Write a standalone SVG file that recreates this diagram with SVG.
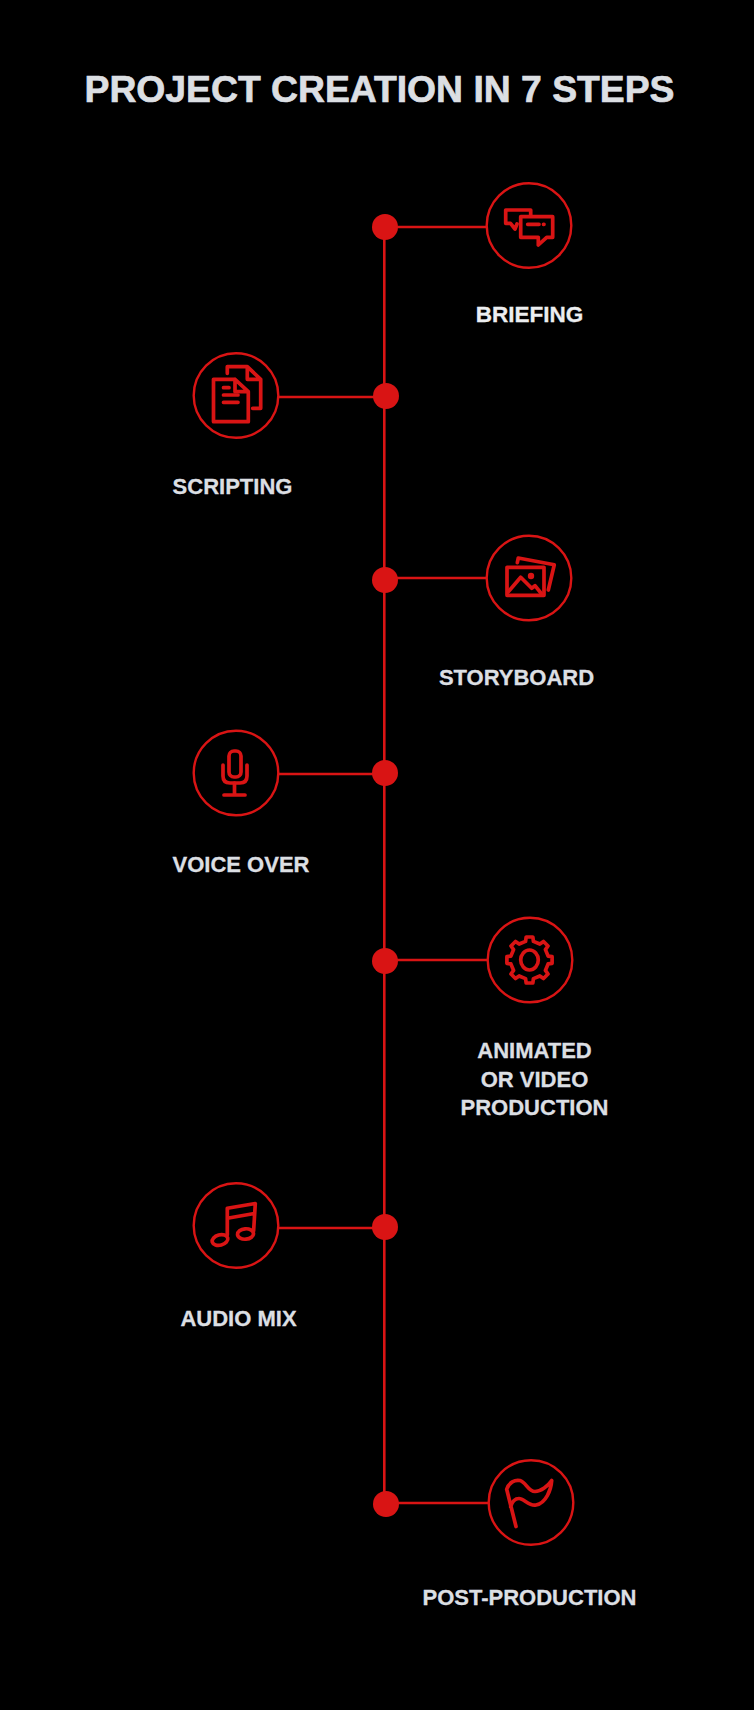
<svg xmlns="http://www.w3.org/2000/svg" width="754" height="1710" viewBox="0 0 754 1710">
<style>
.c{fill:#000;stroke:#d91414;stroke-width:2.4}
.l{fill:none;stroke:#d91414;stroke-width:2.6}
.d{fill:#d91414}
.i{fill:none;stroke:#d91414;stroke-width:3.7;stroke-linejoin:round;stroke-linecap:round}
.t{font-family:"Liberation Sans",Arial,sans-serif;font-weight:700;font-size:22px;fill:#dcdfe3;stroke:#dcdfe3;stroke-width:.3;text-anchor:middle}
</style>
<rect width="754" height="1710" fill="#000"/>
<text class="t" id="title" x="379.5" y="102" style="font-size:37.3px;stroke-width:.7">PROJECT CREATION IN 7 STEPS</text>
<g id="connectors">
<path class="l" d="M384.3 227V1504"/>
<path class="l" d="M385 227H487"/>
<path class="l" d="M278 397H386"/>
<path class="l" d="M385 578H487"/>
<path class="l" d="M278 774H385"/>
<path class="l" d="M385 960H487"/>
<path class="l" d="M278 1228H385"/>
<path class="l" d="M386 1503H488"/>
</g>
<g id="briefing">
<circle class="d" cx="385" cy="227" r="13"/>
<circle class="c" cx="529" cy="225.5" r="42.3"/>
<path class="i" d="M530.7 215V210H505.7V223.3H510.5L515 229L517 224"/>
<path class="i" d="M520.7 216.7H552.7V237.3H546.7L538.3 245V237.3H520.7Z"/>
<path class="i" d="M527.7 224.3H539M543.5 224.3H544"/>
<text class="t" x="529.5" y="322" style="font-size:22.5px;fill:#eceef0;stroke:#eceef0">BRIEFING</text>
</g>
<g id="scripting">
<circle class="d" cx="386" cy="396" r="13"/>
<circle class="c" cx="236" cy="395.5" r="42.3"/>
<path class="i" d="M235 379.3H213.5V421.7H248.3V391.7L235 379.3V391.7H248.3"/>
<path class="i" d="M223.5 387.7H229M223.5 395H238M223.5 402.3H238"/>
<path class="i" d="M227.3 373.3V366.7H247.3L260.7 379.3V408.3H252.7M247.3 366.7V379.3H260.7"/>
<text class="t" x="232.5" y="494">SCRIPTING</text>
</g>
<g id="storyboard">
<circle class="d" cx="385" cy="580" r="13"/>
<circle class="c" cx="529" cy="578" r="42.3"/>
<rect class="i" x="507" y="567.3" width="37" height="28"/>
<path class="i" d="M508.3 591.7L520.7 577.3L531.7 588.3L535 585.7L541.7 594"/>
<circle class="d" cx="531" cy="576" r="3.2"/>
<path class="i" d="M517.3 562.7L518.3 558L554.3 564.7L548.3 590"/>
<text class="t" x="516.5" y="685">STORYBOARD</text>
</g>
<g id="voice-over">
<circle class="d" cx="385" cy="773" r="13"/>
<circle class="c" cx="236" cy="773" r="42.3"/>
<rect class="i" x="229" y="751" width="12" height="26" rx="5"/>
<path class="i" d="M223 765V776Q223 783 230 783H240Q247 783 247 776V765"/>
<path class="i" d="M234.5 783V795M224 795H245"/>
<text class="t" x="241" y="872">VOICE OVER</text>
</g>
<g id="animated-production">
<circle class="d" cx="385" cy="961" r="13"/>
<circle class="c" cx="530" cy="960" r="42.3"/>
<path class="i" transform="translate(529.5 960)" d="M18.6-3.95L22.6-3.34V3.34L18.6 3.95L15.93 10.35L18.5 14L14 18.5L10.35 15.93L3.95 18.6L3.34 23H-3.34L-3.95 18.6L-10.35 15.93L-14 18.5L-18.5 14L-15.93 10.35L-18.6 3.95L-22.6 3.34V-3.34L-18.6-3.95L-15.93-10.35L-18.5-14L-14-18.5L-10.35-15.93L-3.95-18.6L-3.34-23H3.34L3.95-18.6L10.35-15.93L14-18.5L18.5-14L15.93-10.35Z"/>
<ellipse class="i" cx="529.5" cy="960" rx="8.8" ry="10"/>
<text class="t" x="534.5" y="1058">ANIMATED</text>
<text class="t" x="534.5" y="1087">OR VIDEO</text>
<text class="t" x="534.5" y="1115">PRODUCTION</text>
</g>
<g id="audio-mix">
<circle class="d" cx="385" cy="1227" r="13"/>
<circle class="c" cx="236" cy="1225.5" r="42.3"/>
<path class="i" d="M227.3 1235V1208.3L255.3 1203.5L253.6 1231M227.3 1218.3L254.3 1213.5"/>
<ellipse class="i" cx="220" cy="1240" rx="8" ry="5.2" transform="rotate(-15 220 1240)"/>
<ellipse class="i" cx="245.5" cy="1234" rx="8" ry="5.2" transform="rotate(-5 245.5 1234)"/>
<text class="t" x="238.5" y="1326">AUDIO MIX</text>
</g>
<g id="post-production">
<circle class="d" cx="386" cy="1504" r="13"/>
<circle class="c" cx="531" cy="1502.5" r="42.3"/>
<path class="i" d="M516 1526.5L506.7 1489.3C509 1482 515 1479.5 520 1480.5C526 1482 528 1491.5 535 1491.5C541 1491.5 548 1486 551.7 1480.5C551 1490 546 1503 536 1505C529 1506.5 524 1498.5 519 1498.5C515 1498.5 512 1502 510.7 1506.7"/>
<text class="t" x="529.5" y="1605">POST-PRODUCTION</text>
</g>
</svg>
